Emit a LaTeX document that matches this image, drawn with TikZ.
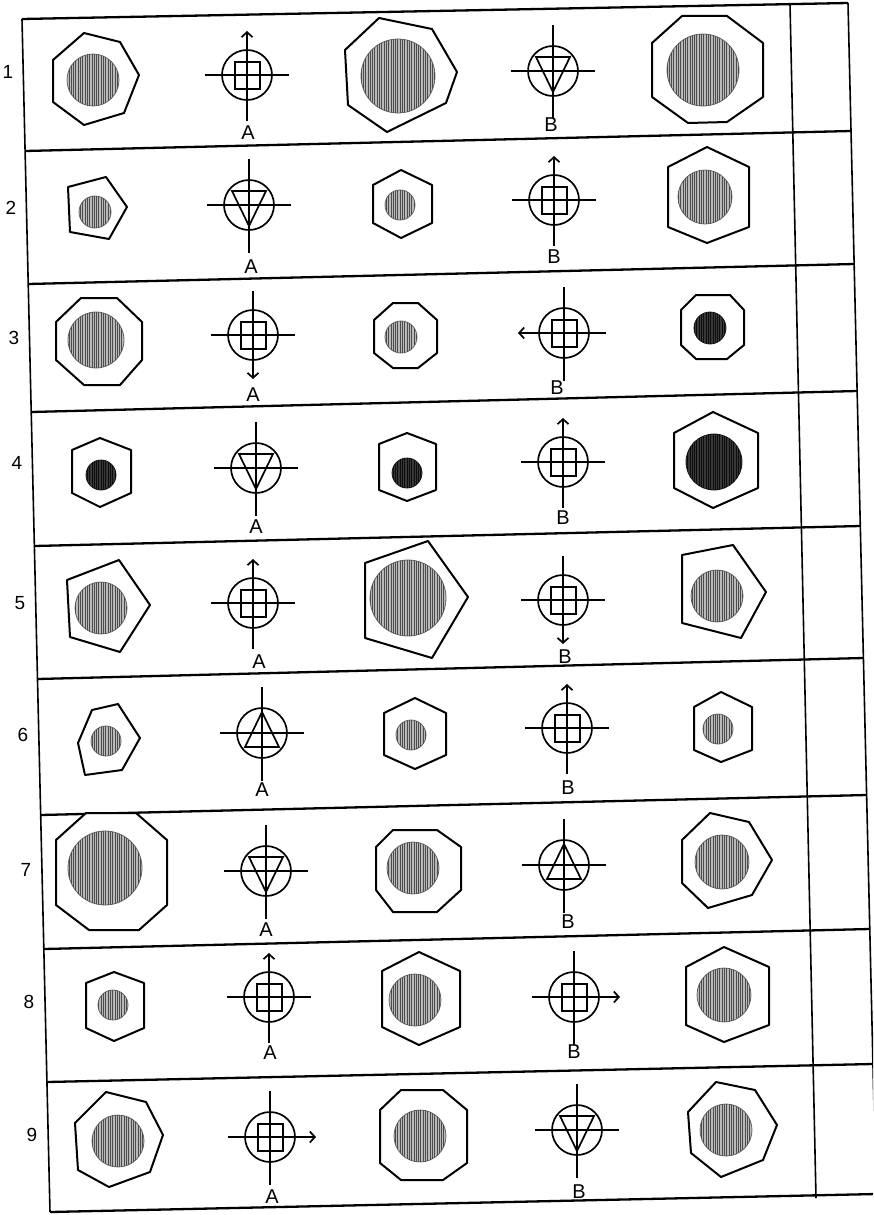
\documentclass[tikz,border=0pt]{standalone}
\usepackage{fontspec}
\setmainfont{Liberation Sans}
\usetikzlibrary{patterns.meta,arrows.meta}
\tikzset{
  tab/.style={line width=2.3pt},
  tabv/.style={line width=1.6pt},
  polyst/.style={line width=2pt, fill=white, line join=round},
  sym/.style={line width=1.7pt},
  hatch/.style={fill=gray!55, draw=black!60, line width=0.8pt,
    postaction={pattern={Lines[angle=90,distance=2.3pt,line width=1pt]}, pattern color=black!70}},
  dark/.style={fill=black!78, draw=black!90, line width=0.8pt,
    postaction={pattern={Lines[angle=90,distance=2.3pt,line width=1pt]}, pattern color=black!95}},
  lab/.style={font=\fontsize{20}{20}\selectfont, inner sep=0pt},
  num/.style={font=\fontsize{19}{19}\selectfont, inner sep=0pt},
  pics/sq/.style={code={\draw[sym] (0,0) circle[radius=25pt]; \draw[sym] (-12,-13) rectangle (13,14);}},
  pics/td/.style={code={\draw[sym] (0,0) circle[radius=25pt]; \draw[sym] (-17,-14) -- (17,-14) -- (0,21) -- cycle;}},
  pics/tu/.style={code={\draw[sym] (0,0) circle[radius=25pt]; \draw[sym] (-17,14) -- (17,14) -- (0,-21) -- cycle;}},
  pics/hN/.style={code={\draw[sym] (-42,0) -- (42,0);}},
  pics/hL/.style={code={\draw[sym,{Straight Barb[length=5pt,width=11pt]}-] (-46,0) -- (42,0);}},
  pics/hR/.style={code={\draw[sym,-{Straight Barb[length=5pt,width=11pt]}] (-42,0) -- (46,0);}},
  pics/vN/.style={code={\draw[sym] (0,-46) -- (0,48);}},
  pics/vU/.style={code={\draw[sym,{Straight Barb[length=5pt,width=11pt]}-] (0,-44) -- (0,46);}},
  pics/vD/.style={code={\draw[sym,-{Straight Barb[length=5pt,width=11pt]}] (0,-44) -- (0,44);}},
}
\newcommand\symb[5]{\pic at (#1,#2) {#3}; \pic at (#1,#2) {#4}; \pic at (#1,#2) {#5};}
\newcommand\disc[3]{\path[hatch] (#1,#2) circle[radius=#3pt];}
\newcommand\ddisc[3]{\path[dark] (#1,#2) circle[radius=#3pt];}
\begin{document}
\begin{tikzpicture}[x=1pt,y=-1pt]
\useasboundingbox (0,0) rectangle (873,1215);
\fill[white] (0,0) rectangle (873,1215);
\clip (0,0) rectangle (873,1215);
% table frame
\coordinate (TL) at (22,19);
\coordinate (TR) at (848,3);
\coordinate (BL) at (50,1212);
\coordinate (BR) at (876,1194);
\coordinate (IT) at (790,4);
\coordinate (IB) at (816,1198);
\draw[tab] (TL) -- (TR);
\draw[tab] (BL) -- (BR);
\draw[tabv] (TL) -- (BL);
\draw[tabv] (TR) -- (BR);
\draw[tabv] (IT) -- (IB);
\foreach \yl/\yr [count=\i] in {151/131,284/264,412/391,546/526,679/658,815/795,949/929,1082/1064}{
  \coordinate (L\i) at ({22+0.0235*(\yl-19)},\yl);
  \coordinate (R\i) at ({848+0.0235*(\yr-3)},\yr);
  \draw[tab] (L\i) -- (R\i);
}
% row numbers
\node[num] (n1) at (8,72) {1};
\node[num] (n2) at (11,208) {2};
\node[num] (n3) at (14,338) {3};
\node[num] (n4) at (17,463) {4};
\node[num] (n5) at (20,603) {5};
\node[num] (n6) at (23,735) {6};
\node[num] (n7) at (26,870) {7};
\node[num] (n8) at (29,1002) {8};
\node[num] (n9) at (32,1135) {9};

% ---------- Row 1
\draw[polyst] (84,33) -- (120,42) -- (139,75) -- (124,113) -- (84,125) -- (53,102) -- (53,60) -- cycle;
\disc{93}{80}{26}
\symb{247}{75}{sq}{vU}{hN}
\node[lab] (a1) at (248,133) {A};
\draw[polyst] (379,18) -- (432,29) -- (457,72) -- (446,103) -- (387,132) -- (348,105) -- (345,50) -- cycle;
\disc{398}{76}{37}
\symb{553}{71}{td}{vN}{hN}
\node[lab] (b1) at (551,125) {B};
\draw[polyst] (682,16) -- (727,16) -- (763,43) -- (763,97) -- (727,122) -- (688,123) -- (652,97) -- (652,43) -- cycle;
\disc{703}{70}{36}

% ---------- Row 2
\draw[polyst] (68,187) -- (106,177) -- (127,207) -- (109,239) -- (70,232) -- cycle;
\disc{95}{212}{16}
\symb{249}{205}{td}{vN}{hN}
\node[lab] (a2) at (251,267) {A};
\draw[polyst] (401,170) -- (432,185) -- (432,223) -- (401,238) -- (373,223) -- (373,185) -- cycle;
\disc{400}{205}{15}
\symb{554}{200}{sq}{vU}{hN}
\node[lab] (b2) at (554,257) {B};
\draw[polyst] (707,147) -- (749,167) -- (749,227) -- (707,243) -- (668,227) -- (668,167) -- cycle;
\disc{705}{197}{27}

% ---------- Row 3
\draw[polyst] (81,298) -- (117,298) -- (142,322) -- (142,360) -- (120,385) -- (84,385) -- (56,360) -- (56,322) -- cycle;
\disc{96}{340}{28}
\symb{253}{335}{sq}{vD}{hN}
\node[lab] (a3) at (253,395) {A};
\draw[polyst] (393,303) -- (418,303) -- (437,320) -- (437,353) -- (418,368) -- (393,368) -- (374,353) -- (374,320) -- cycle;
\disc{401}{337}{16}
\symb{564}{333}{sq}{vN}{hL}
\node[lab] (b3) at (557,388) {B};
\draw[polyst] (696,295) -- (730,295) -- (744,310) -- (744,345) -- (727,359) -- (696,359) -- (681,345) -- (681,310) -- cycle;
\ddisc{710}{328}{16}

% ---------- Row 4
\draw[polyst] (100,438) -- (131,450) -- (131,493) -- (100,507) -- (72,493) -- (72,450) -- cycle;
\ddisc{101}{475}{15}
\symb{256}{468}{td}{vN}{hN}
\node[lab] (a4) at (256,527) {A};
\draw[polyst] (407,433) -- (436,444) -- (436,490) -- (407,501) -- (379,490) -- (379,444) -- cycle;
\ddisc{407}{473}{15}
\symb{563}{462}{sq}{vU}{hN}
\node[lab] (b4) at (563,518) {B};
\draw[polyst] (713,412) -- (758,433) -- (758,488) -- (713,508) -- (674,488) -- (674,433) -- cycle;
\ddisc{714}{462}{28}

% ---------- Row 5
\draw[polyst] (67,580) -- (119,560) -- (150,605) -- (120,652) -- (70,637) -- cycle;
\disc{101}{608}{26}
\symb{253}{603}{sq}{vU}{hN}
\node[lab] (a5) at (259,662) {A};
\draw[polyst] (365,563) -- (428,541) -- (468,597) -- (432,658) -- (365,638) -- cycle;
\disc{408}{598}{38}
\symb{563}{600}{sq}{vD}{hN}
\node[lab] (b5) at (565,657) {B};
\draw[polyst] (682,555) -- (733,545) -- (766,592) -- (741,638) -- (682,623) -- cycle;
\disc{717}{596}{26}

% ---------- Row 6
\draw[polyst] (92,710) -- (118,704) -- (140,738) -- (122,770) -- (85,775) -- (78,743) -- cycle;
\disc{106}{741}{15}
\symb{262}{733}{tu}{vN}{hN}
\node[lab] (a6) at (262,790) {A};
\draw[polyst] (415,698) -- (446,713) -- (446,755) -- (415,769) -- (384,755) -- (384,713) -- cycle;
\disc{411}{735}{15}
\symb{567}{728}{sq}{vU}{hN}
\node[lab] (b6) at (568,788) {B};
\draw[polyst] (721,692) -- (752,707) -- (752,750) -- (721,762) -- (694,750) -- (694,707) -- cycle;
\disc{718}{729}{15}

% ---------- Row 7
\draw[polyst] (86,813) -- (136,813) -- (167,840) -- (167,905) -- (139,930) -- (89,930) -- (56,905) -- (56,840) -- cycle;
\disc{105}{868}{37}
\symb{266}{871}{td}{vN}{hN}
\node[lab] (a7) at (266,930) {A};
\draw[polyst] (393,830) -- (437,830) -- (461,847) -- (461,890) -- (437,912) -- (393,912) -- (376,890) -- (376,847) -- cycle;
\disc{413}{868}{26}
\symb{564}{865}{tu}{vN}{hN}
\node[lab] (b7) at (568,922) {B};
\draw[polyst] (710,813) -- (749,822) -- (772,860) -- (752,895) -- (708,908) -- (682,883) -- (682,840) -- cycle;
\disc{722}{862}{27}

% ---------- Row 8
\draw[polyst] (114,972) -- (144,983) -- (144,1028) -- (114,1041) -- (86,1028) -- (86,983) -- cycle;
\disc{113}{1005}{15}
\symb{269}{997}{sq}{vU}{hN}
\node[lab] (a8) at (270,1053) {A};
\draw[polyst] (419,952) -- (460,971) -- (460,1027) -- (419,1045) -- (382,1027) -- (382,971) -- cycle;
\disc{415}{1000}{26}
\symb{574}{997}{sq}{vN}{hR}
\node[lab] (b8) at (574,1052) {B};
\draw[polyst] (724,947) -- (769,967) -- (769,1025) -- (724,1042) -- (686,1025) -- (686,967) -- cycle;
\disc{724}{995}{27}

% ---------- Row 9
\draw[polyst] (106,1092) -- (146,1102) -- (163,1135) -- (150,1172) -- (109,1187) -- (78,1170) -- (75,1123) -- cycle;
\disc{118}{1141}{26}
\symb{270}{1137}{sq}{vN}{hR}
\node[lab] (a9) at (272,1197) {A};
\draw[polyst] (401,1090) -- (443,1090) -- (467,1110) -- (467,1163) -- (443,1180) -- (401,1180) -- (380,1163) -- (380,1110) -- cycle;
\disc{420}{1136}{26}
\symb{577}{1130}{td}{vN}{hN}
\node[lab] (b9) at (579,1192) {B};
\draw[polyst] (716,1082) -- (755,1090) -- (777,1125) -- (763,1160) -- (721,1177) -- (691,1153) -- (688,1112) -- cycle;
\disc{726}{1130}{26}
\end{tikzpicture}
\end{document}
